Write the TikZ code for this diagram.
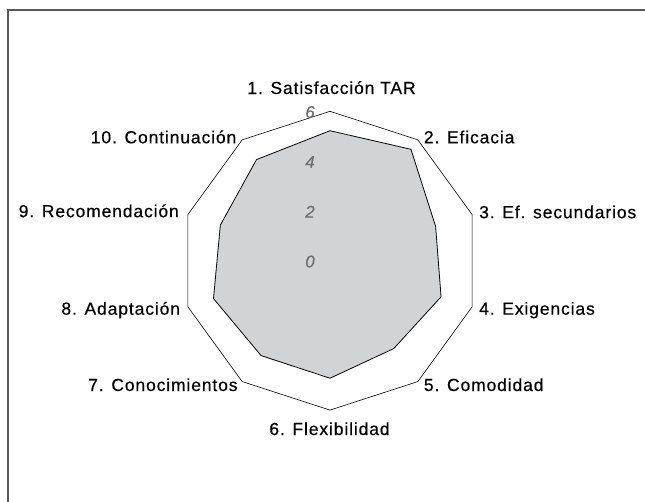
\documentclass[tikz,border=0pt]{standalone}
\usepackage{fontspec}
\setmainfont{Liberation Sans}
\newfontfamily\axisfont[LetterSpace=5, FakeBold=0.4]{Liberation Sans}
\newfontfamily\scalefont[FakeBold=0.3]{Liberation Sans}
\usetikzlibrary{positioning}
\definecolor{radarfill}{HTML}{D1D3D4}
\definecolor{scalegray}{HTML}{6D6E71}
\definecolor{framegray}{HTML}{5A5A5A}
\tikzset{
  axislabel/.style={inner sep=0pt, font=\axisfont\fontsize{17.5}{20}\selectfont},
  scalelabel/.style={inner sep=0pt, text=scalegray, font=\scalefont\itshape\fontsize{17}{20}\selectfont}
}
\begin{document}
\begin{tikzpicture}[x=1pt,y=1pt,line join=miter]
            \useasboundingbox (-330,-240.3) rectangle (315,260.7);

            % draw the frame
            \draw[framegray, line width=1.6pt] (-322,-242) -- (-322,250.7) -- (317,250.7);

            % corners of the outer decagon (value 6)
            \foreach \i in {1,...,10}
                \coordinate (out\i) at ({90-36*(\i-1)}:149.4);

            % corners of the data polygon
            \foreach \i/\v in {1/5.22, 2/5.53, 3/4.46, 4/4.69, 5/4.36, 6/4.72, 7/4.71, 8/4.92, 9/4.63, 10/5.02}
                \coordinate (val\i) at ({90-36*(\i-1)}:{\v*24.9});

            % draw the data polygon
            \draw[fill=radarfill, line width=0.8pt] (val1) -- (val2) -- (val3) -- (val4) -- (val5)
                -- (val6) -- (val7) -- (val8) -- (val9) -- (val10) -- cycle;

            % draw the outer decagon
            \draw[line width=0.6pt] (out1) -- (out2) -- (out3) -- (out4) -- (out5)
                -- (out6) -- (out7) -- (out8) -- (out9) -- (out10) -- cycle;

            % scale values
            \foreach \v in {0,2,4,6}
                \node[scalelabel] (tick\v) at (-20,{\v*24.9-0.8}) {\v};

            % text at the corners
            \node[axislabel, anchor=base] (lab1) at (1.5,166.7) {1. Satisfacción TAR};
            \node[axislabel, anchor=base west] (lab2) at (93.7,117.4) {2. Eficacia};
            \node[axislabel, anchor=base west] (lab3) at (149,42.5) {3. Ef. secundarios};
            \node[axislabel, anchor=base west] (lab4) at (149,-54) {4. Exigencias};
            \node[axislabel, anchor=base west] (lab5) at (93.7,-130.3) {5. Comodidad};
            \node[axislabel, anchor=base] (lab6) at (-0.5,-174.3) {6. Flexibilidad};
            \node[axislabel, anchor=base east] (lab7) at (-92.2,-130.3) {7. Conocimientos};
            \node[axislabel, anchor=base east] (lab8) at (-149.8,-54) {8. Adaptación};
            \node[axislabel, anchor=base east] (lab9) at (-151,43.5) {9. Recomendación};
            \node[axislabel, anchor=base east] (lab10) at (-93.5,117.4) {10. Continuación};

        \end{tikzpicture}
\end{document}
